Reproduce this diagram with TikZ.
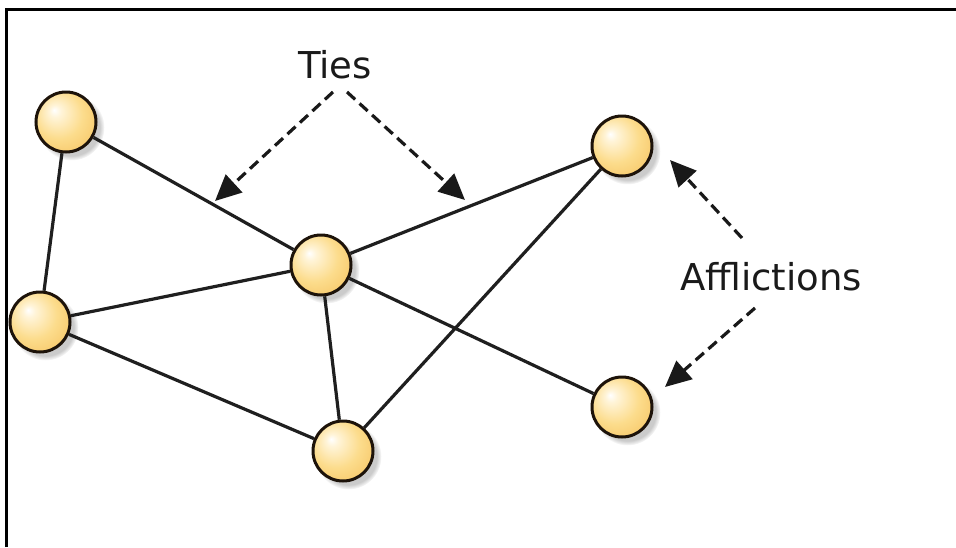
\documentclass[tikz,border=0pt]{standalone}
\usepackage{fontspec}
\setmainfont{DejaVu Sans}
\usetikzlibrary{arrows.meta,shadows}
\definecolor{ballA}{HTML}{FFF4D8}
\definecolor{ballB}{HTML}{FCDC8C}
\definecolor{ballC}{HTML}{F4BE58}
\definecolor{txt}{HTML}{1A1A1A}
\pgfdeclareradialshading{myball}{\pgfpoint{-10bp}{10bp}}{%
  color(0bp)=(white); color(5bp)=(ballA); color(20bp)=(ballB); color(40bp)=(ballC); color(50bp)=(ballC)}
\tikzset{
  ball/.style={circle, minimum size=60pt, inner sep=0pt, draw=black!85!brown, line width=3pt,
    shading=myball,
    circular drop shadow={shadow xshift=5pt, shadow yshift=-5pt, fill=black!45, opacity=.45}},
  tie/.style={line width=3.2pt, draw=black!88},
  pointer/.style={line width=3.2pt, draw=black!90, dash pattern=on 11pt off 6pt,
    -{Triangle[length=26pt,width=24pt]}},
  lbl/.style={font=\fontsize{37}{40}\selectfont, text=txt, anchor=base, inner sep=0pt}
}
\begin{document}
\begin{tikzpicture}[x=1pt,y=-1pt]
\useasboundingbox (0,0) rectangle (956,547);
\draw[line width=3pt] (6,547) -- (6,9) -- (956,9);
% nodes
\node[ball] (A) at (66,122) {};
\node[ball] (B) at (40,322) {};
\node[ball] (C) at (321,265) {};
\node[ball] (D) at (343,451) {};
\node[ball] (E) at (622,146) {};
\node[ball] (F) at (622,407) {};
% ties
\draw[tie] (A) -- (B);
\draw[tie] (A) -- (C);
\draw[tie] (B) -- (C);
\draw[tie] (B) -- (D);
\draw[tie] (C) -- (D);
\draw[tie] (C) -- (E);
\draw[tie] (C) -- (F);
\draw[tie] (D) -- (E);
% labels
\node[lbl] (ties) at (335,78) {Ties};
\node[lbl] (aff) at (771,290) {Afflictions};
\coordinate (t1s) at (333,92);
\coordinate (t1e) at (215,201);
\coordinate (t2s) at (347,92);
\coordinate (t2e) at (465,200);
\coordinate (a1s) at (742,238);
\coordinate (a1e) at (670,160);
\coordinate (a2s) at (755,308);
\coordinate (a2e) at (665,387);
\draw[pointer] (t1s) -- (t1e);
\draw[pointer] (t2s) -- (t2e);
\draw[pointer] (a1s) -- (a1e);
\draw[pointer] (a2s) -- (a2e);
\end{tikzpicture}
\end{document}
